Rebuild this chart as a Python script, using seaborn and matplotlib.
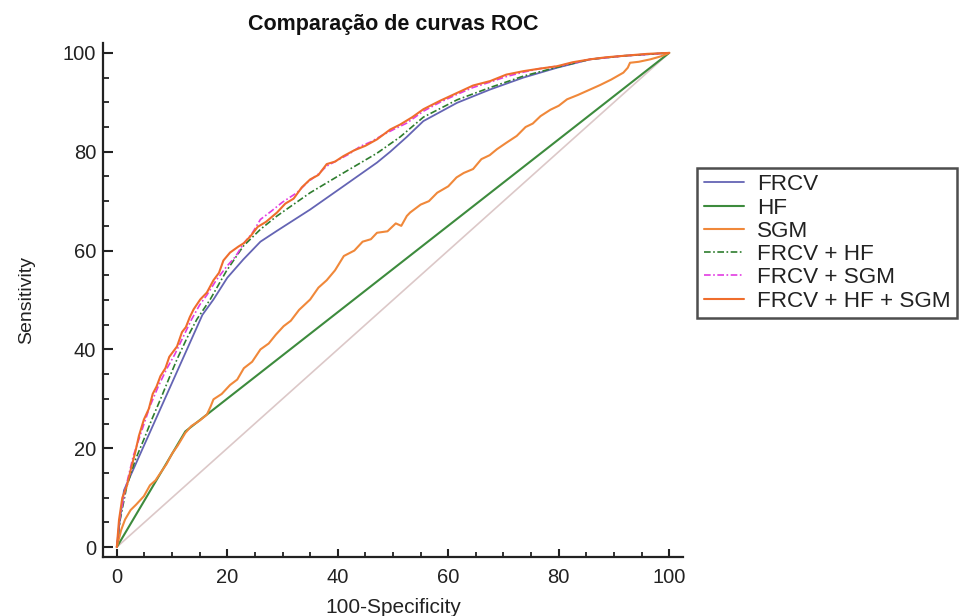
import matplotlib
matplotlib.use("Agg")
import matplotlib.pyplot as plt
import seaborn as sns
import pandas as pd
from matplotlib.ticker import MultipleLocator

# ---------------- data ----------------
title = "Comparação de curvas ROC"
x_label = "100-Specificity"
y_label = "Sensitivity"
series_names = ["FRCV", "HF", "SGM", "FRCV + HF", "FRCV + SGM", "FRCV + HF + SGM"]

frcv_x = [0, 0.5, 1.3, 15.5, 17.5, 20.0, 22.9, 26.0, 29.0, 35.0, 41.0, 47.1, 49.5, 52.5,
          55.5, 61.6, 67.6, 73.6, 79.7, 85.7, 91.7, 100]
frcv_y = [0, 5.0, 11.5, 47.0, 50.1, 54.5, 58.2, 61.8, 64.0, 68.3, 73.0, 77.8, 80.0, 83.0,
          86.2, 89.9, 92.6, 95.0, 97.0, 98.7, 99.4, 100]

hf_x = [0, 12.4, 100]
hf_y = [0, 23.4, 100]

sgm_x = [0, 0.8, 1.5, 2.5, 3.5, 4.9, 6.0, 7.0, 7.9, 9.0, 10.0, 11.0, 12.4, 13.5, 15.0,
         16.3, 17.0, 17.5, 19.0, 20.5, 21.8, 23.0, 24.5, 26.0, 27.5, 28.8, 30.2, 31.5,
         33.0, 35.0, 36.5, 38.0, 39.5, 41.1, 43.0, 44.5, 46.0, 47.1, 49.0, 50.5, 51.5,
         52.5, 53.1, 55.0, 56.5, 58.0, 60.0, 61.5, 62.8, 64.5, 66.0, 67.5, 68.8, 70.5,
         72.4, 74.0, 75.3, 76.7, 78.5, 80.0, 81.5, 83.5, 85.7, 87.5, 89.5, 91.7, 92.5,
         92.9, 94.5, 96.6, 98.5, 100]
sgm_y = [0, 3.5, 5.6, 7.5, 8.6, 10.3, 12.5, 13.5, 15.0, 16.8, 18.9, 20.5, 23.1, 24.5, 25.6,
         26.8, 28.5, 29.9, 31.0, 32.8, 33.9, 36.2, 37.5, 40.0, 41.2, 43.0, 44.7, 45.8,
         48.0, 50.1, 52.5, 54.0, 56.0, 58.9, 60.0, 61.8, 62.3, 63.6, 63.9, 65.5, 65.0,
         67.0, 67.7, 69.3, 70.0, 71.7, 73.0, 74.8, 75.7, 76.5, 78.5, 79.3, 80.5, 81.8,
         83.2, 85.0, 85.7, 87.2, 88.5, 89.3, 90.6, 91.5, 92.6, 93.5, 94.6, 96.0, 97.0,
         98.0, 98.2, 98.7, 99.3, 100]

frcv_hf_x = [0, 0.6, 1.8, 3.3, 4.9, 6.4, 7.9, 9.4, 10.9, 12.7, 14.5, 16.9, 19.8, 22.9, 26.0,
             29.0, 35.0, 41.0, 47.1, 51.3, 55.5, 61.6, 67.6, 73.6, 79.7, 85.7, 91.7, 100]
frcv_hf_y = [0, 5.5, 12.3, 17.5, 21.8, 26.0, 29.9, 34.0, 38.0, 42.3, 46.1, 50.1, 55.8, 60.9, 64.3,
             67.0, 71.7, 75.7, 79.7, 83.0, 87.0, 90.5, 93.0, 95.3, 97.1, 98.7, 99.4, 100]

frcv_sgm_x = [0, 0.5, 1.6, 3.0, 4.5, 6.0, 7.5, 9.0, 10.5, 12.0, 13.5, 15.0, 16.3, 18.0, 19.9,
              21.5, 23.0, 24.5, 26.0, 28.0, 30.0, 32.6, 34.5, 36.5, 38.0, 40.0, 42.0, 44.1,
              46.0, 48.0, 50.1, 52.5, 55.5, 58.5, 61.6, 64.5, 67.6, 70.5, 73.6, 76.5, 79.7,
              85.7, 91.7, 100]
frcv_sgm_y = [0, 5.5, 12.0, 18.5, 23.5, 28.5, 32.5, 36.0, 39.0, 42.5, 46.0, 49.0, 51.0, 54.0, 56.8,
              58.8, 61.5, 63.5, 66.3, 68.0, 69.8, 71.7, 73.8, 75.5, 77.1, 78.3, 79.5, 81.1,
              82.0, 83.3, 84.5, 85.8, 88.2, 90.0, 91.6, 93.0, 94.1, 95.2, 96.1, 96.8, 97.3,
              98.7, 99.4, 100]

all3_x = [0, 0.4, 1.0, 1.8, 2.6, 3.3, 4.0, 4.9, 5.8, 6.5, 7.2, 7.9, 8.8, 9.5, 10.9, 11.8,
          12.5, 13.2, 13.9, 15.1, 16.3, 17.5, 18.5, 19.3, 20.5, 22.0, 23.0, 24.2, 25.5,
          27.0, 29.0, 30.5, 32.0, 33.5, 35.0, 36.5, 38.0, 39.5, 41.0, 43.0, 45.0, 47.1,
          49.5, 51.3, 53.5, 55.5, 58.5, 61.6, 64.5, 67.6, 70.5, 73.6, 76.5, 79.7, 82.5,
          85.7, 88.5, 91.7, 96.0, 100]
all3_y = [0, 5.5, 10.0, 12.3, 16.0, 19.0, 22.5, 25.8, 28.0, 31.0, 32.5, 34.6, 36.2, 38.5, 40.6, 43.5,
          44.5, 46.5, 48.1, 50.1, 51.5, 54.0, 55.5, 58.0, 59.6, 60.8, 61.5, 62.9, 64.8,
          65.8, 67.7, 69.5, 70.5, 72.8, 74.4, 75.3, 77.5, 78.0, 79.1, 80.3, 81.2, 82.5,
          84.5, 85.5, 87.0, 88.6, 90.3, 91.9, 93.4, 94.3, 95.6, 96.3, 96.8, 97.3, 98.1,
          98.7, 99.1, 99.4, 99.8, 100]

diag_x = [0, 100]
diag_y = [0, 100]

x_ticks = [0, 20, 40, 60, 80, 100]
y_ticks = [0, 20, 40, 60, 80, 100]

# ---------------- style ----------------
sns.set_style("ticks")
plt.rcParams["font.family"] = ["Liberation Sans", "DejaVu Sans"]

fig = plt.figure(figsize=(9.68, 6.16), dpi=100)
ax = fig.add_axes([0.1064, 0.0958, 0.5992, 0.8344])

curves = [
    (frcv_x, frcv_y, "FRCV", "#6464b4", "-", 1.3),
    (hf_x, hf_y, "HF", "#3d8b3d", "-", 1.5),
    (sgm_x, sgm_y, "SGM", "#f0883a", "-", 1.5),
    (frcv_hf_x, frcv_hf_y, "FRCV + HF", "#2e7d2e", (0, (4, 1.5, 1, 1.5)), 1.2),
    (frcv_sgm_x, frcv_sgm_y, "FRCV + SGM", "#e23ce2", (0, (4, 1.5, 1, 1.5)), 1.2),
    (all3_x, all3_y, "FRCV + HF + SGM", "#ef6d2c", "-", 1.5),
]

# reference diagonal
sns.lineplot(data=pd.DataFrame({"x": diag_x, "y": diag_y}), x="x", y="y", ax=ax,
             color="#dcc8c8", lw=1.2, estimator=None, sort=False, legend=False)

for xs, ys, name, col, ls, lw in curves:
    df = pd.DataFrame({"x": xs, "y": ys})
    sns.lineplot(data=df, x="x", y="y", ax=ax, color=col, lw=lw, linestyle=ls,
                 estimator=None, sort=False, label=name)

ax.set_xlim(-2.5, 102.5)
ax.set_ylim(-2.0, 102.0)
ax.set_xticks(x_ticks)
ax.set_yticks(y_ticks)
ax.xaxis.set_minor_locator(MultipleLocator(5))
ax.yaxis.set_minor_locator(MultipleLocator(5))

for s in ["top", "right"]:
    ax.spines[s].set_visible(False)
for s in ["left", "bottom"]:
    ax.spines[s].set_linewidth(1.6)
    ax.spines[s].set_color("#222222")

ax.tick_params(axis="y", which="major", direction="in", length=7.5, width=1.5,
               labelsize=14.5, pad=5, colors="#222222")
ax.tick_params(axis="y", which="minor", direction="in", length=4, width=1.3, colors="#222222")
ax.tick_params(axis="x", which="major", direction="in", length=6, width=1.5,
               labelsize=14.5, pad=8, colors="#222222")
ax.tick_params(axis="x", which="minor", direction="in", length=3.5, width=1.3, colors="#222222")

ax.set_xlabel(x_label, fontsize=15, labelpad=8, color="#222222")
ax.set_ylabel(y_label, fontsize=14, labelpad=20, color="#222222")
ax.set_title(title, fontsize=15.5, fontweight="bold", pad=9, color="#111111")

leg = ax.legend(loc="upper left", bbox_to_anchor=(0.7205, 0.728),
                bbox_transform=fig.transFigure, fontsize=16.2, frameon=True,
                fancybox=False, edgecolor="#222222", borderpad=0.3,
                labelspacing=0.1, handlelength=1.75, handletextpad=0.6,
                borderaxespad=0)
leg.get_frame().set_linewidth(1.8)
for t in leg.get_texts():
    t.set_color("#222222")

fig.savefig("out.png", dpi=100)
